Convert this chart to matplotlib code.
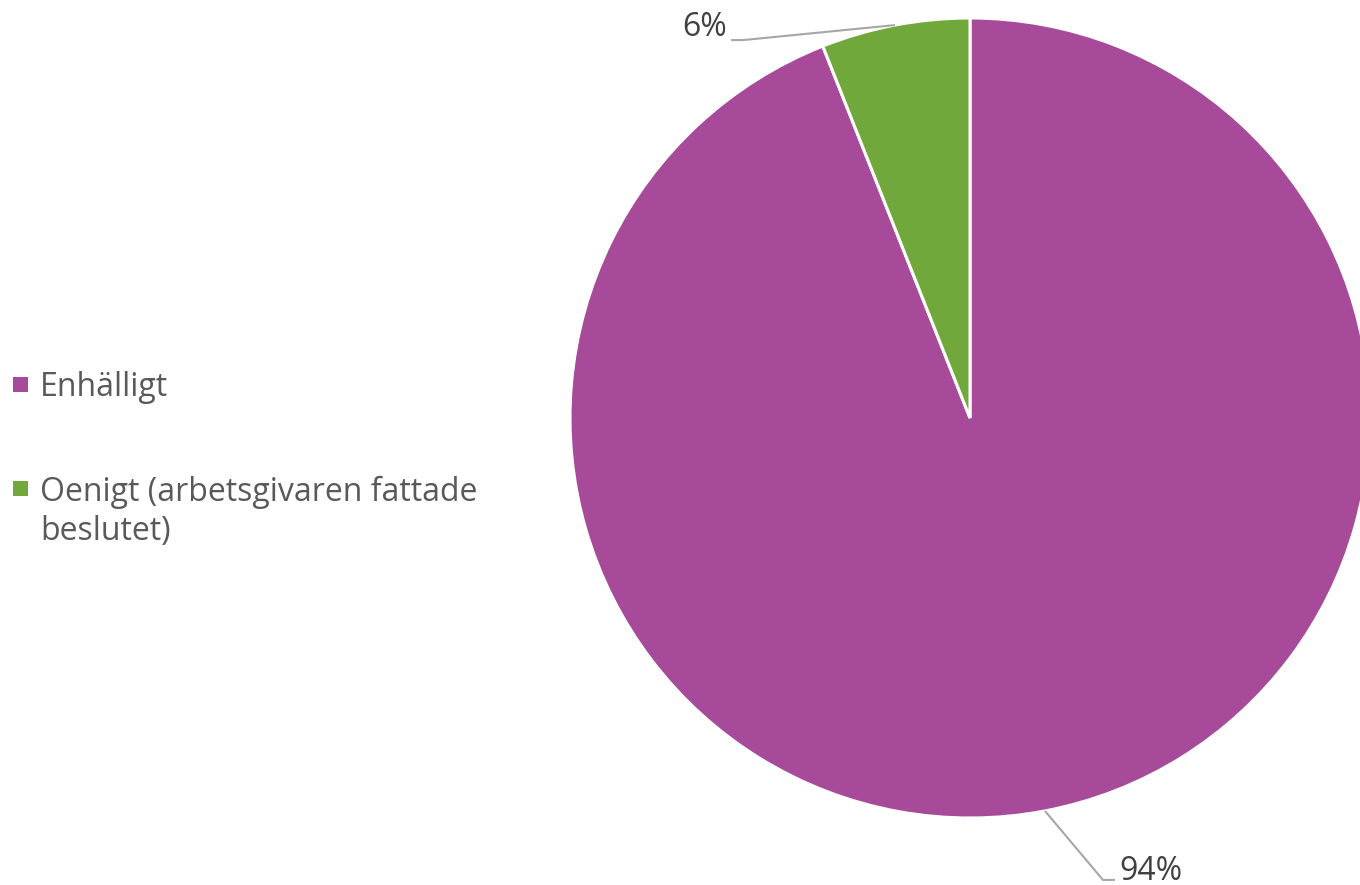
import numpy as np
import matplotlib.pyplot as plt
from matplotlib.patches import Rectangle

categories = ["Enhälligt", "Oenigt (arbetsgivaren fattade\nbeslutet)"]
shares = [94, 6]
pct_labels = ["94%", "6%"]
colors = ["#A64A99", "#70A83B"]

plt.rcParams["font.family"] = ["Open Sans", "DejaVu Sans"]

W, H = 1360, 885
fig = plt.figure(figsize=(W / 100, H / 100), dpi=100)
ax = fig.add_axes([0, 0, 1, 1])

cx, cy, r = 970, 467, 400
wedges, _ = ax.pie(
    shares,
    colors=colors,
    startangle=90,
    counterclock=False,
    center=(cx, cy),
    radius=r,
    wedgeprops=dict(edgecolor="white", linewidth=2.2),
)
ax.set_xlim(0, W)
ax.set_ylim(0, H)
ax.set_aspect("equal")
ax.axis("off")

# data labels with leader lines (offset from the wedge edge to the elbow)
elbow_offsets = [(58, -69), (-152, -15)]
text_dy = [8, 13]
for w, lab, (dx, dy), tdy in zip(wedges, pct_labels, elbow_offsets, text_dy):
    ang = np.deg2rad((w.theta1 + w.theta2) / 2)
    ex, ey = cx + r * np.cos(ang), cy + r * np.sin(ang)
    bx, by = ex + dx, ey + dy
    side = 1 if dx > 0 else -1
    tx = bx + side * 12
    ax.plot([ex, bx, tx], [ey, by, by], color="#A6A6A6", lw=1.5,
            solid_capstyle="butt")
    ax.text(tx + side * 4, by + tdy, lab, fontsize=23, color="#404040",
            ha="left" if side > 0 else "right", va="center")

# legend on the left (y = baseline of the first line)
legend_base = [396, 500]
line_px = 40
for name, col, y in zip(categories, colors, legend_base):
    ax.add_patch(Rectangle((13, H - y + 4), 15, 15, facecolor=col,
                           edgecolor="none"))
    n_lines = name.count("\n") + 1
    ax.text(40, H - y - (n_lines - 1) * line_px, name, fontsize=23,
            color="#595959", ha="left", va="baseline", linespacing=1.245)

fig.savefig("out.png", dpi=100)
